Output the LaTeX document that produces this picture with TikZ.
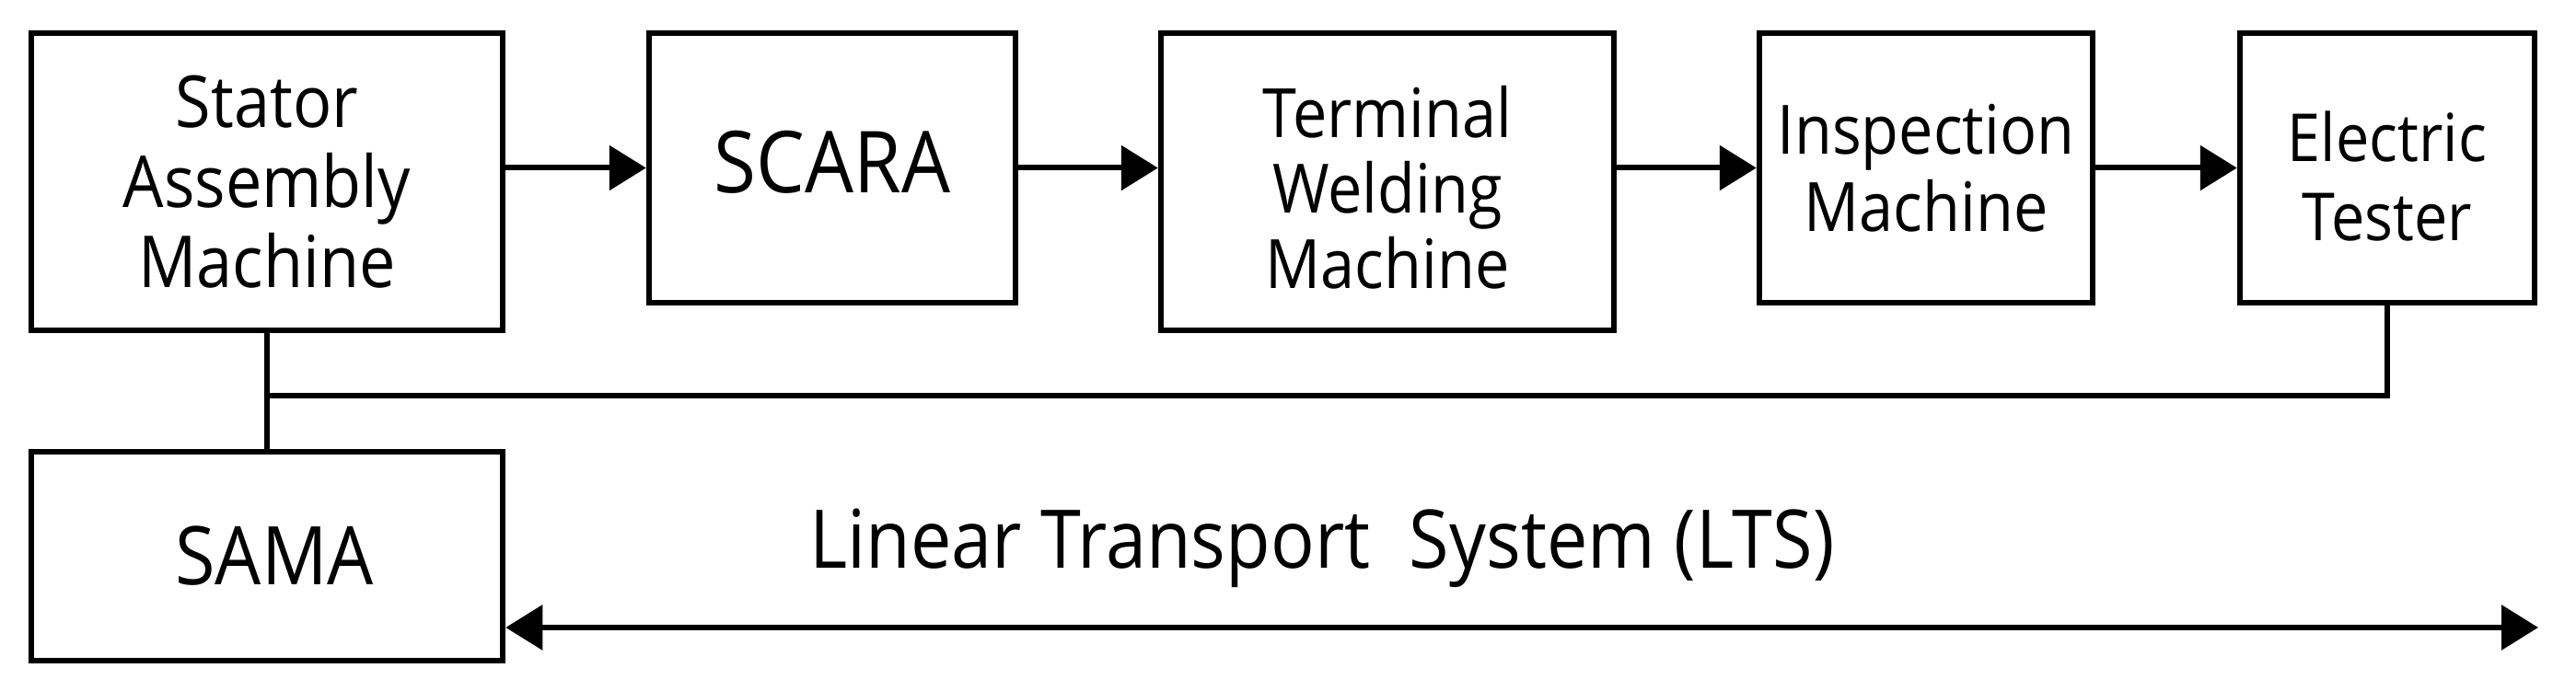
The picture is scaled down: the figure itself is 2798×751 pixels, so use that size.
\documentclass[tikz,border=0pt]{standalone}
\usepackage{fontspec}
\setmainfont[FakeStretch=0.9]{Open Sans}
\usetikzlibrary{arrows.meta}
\begin{document}
\begin{tikzpicture}[x=1pt,y=-1pt,
  box/.style={draw, line width=6.5pt, inner sep=0pt},
  lbl/.style={align=center, inner sep=0pt},
  conn/.style={line width=6pt},
  tip/.tip={Triangle[length=40pt,width=48pt]},
  arr/.style={line width=6pt, -tip},
  big/.style={font=\fontsize{93}{98}\selectfont},
  mid/.style={font=\fontsize{78}{87}\selectfont},
  sml/.style={font=\fontsize{74}{82}\selectfont}]
\useasboundingbox (0,0) rectangle (2798,751);
% boxes
\node[box, minimum width=512pt, minimum height=323pt] (stator) at (290,197.5) {};
\node[box, minimum width=398pt, minimum height=293pt] (scara) at (904,182.5) {};
\node[box, minimum width=492pt, minimum height=323pt] (term) at (1507,197.5) {};
\node[box, minimum width=362pt, minimum height=293pt] (insp) at (2092,182.5) {};
\node[box, minimum width=320pt, minimum height=293pt] (elec) at (2593,182.5) {};
\node[box, minimum width=512pt, minimum height=227pt] (sama) at (290,604.5) {};
% labels
\node[lbl, mid] (statorl) at (stator.center) {Stator\\Assembly\\Machine};
\node[lbl, big, yshift=6pt] (scaral) at (scara.center) {SCARA};
\node[lbl, sml, yshift=-6pt] (terml) at (term.center) {Terminal\\Welding\\Machine};
\node[lbl, font=\fontsize{74}{84}\selectfont] (inspl) at (insp.center) {Inspection\\Machine};
\node[lbl, font=\fontsize{72}{86}\selectfont, yshift=-9pt] (elecl) at (elec.center) {Electric\\Tester};
\node[lbl, font=\fontsize{88}{92}\selectfont, xshift=8pt] (samal) at (sama.center) {SAMA};
\node[lbl, font=\fontsize{88}{92}\selectfont] (lts) at (1436,596) {Linear Transport\hspace{0.25em} System (LTS)};
% connectors
\coordinate (bus) at (295,430);
\coordinate (ltsend) at (2757,682);
\draw[arr] (stator.east |- scara.west) -- (scara.west);
\draw[arr] (scara.east) -- (term.west |- scara.east);
\draw[arr] (term.east |- insp.west) -- (insp.west);
\draw[arr] (insp.east) -- (elec.west);
\draw[conn] (stator.south) -- (sama.north);
\draw[conn] (stator.south |- bus) -- (elec.south |- bus) -- (elec.south);
\draw[line width=6pt, tip-tip] (sama.east |- ltsend) -- (ltsend);
\end{tikzpicture}
\end{document}
